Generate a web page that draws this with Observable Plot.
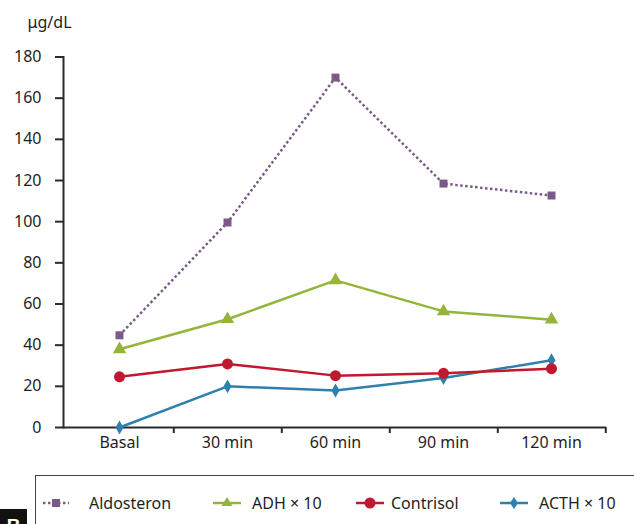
<!DOCTYPE html>
<html><head><meta charset="utf-8">
<script src="https://cdn.jsdelivr.net/npm/d3@7"></script>
<script src="https://cdn.jsdelivr.net/npm/@observablehq/plot@0.6"></script>
<style>
body{margin:0;background:#fff;font-family:"Noto Sans",sans-serif;}
#wrap{position:relative;width:634px;height:524px;overflow:hidden;background:#fff;}
#legend{position:absolute;left:35px;top:475px;width:640px;height:70px;border:1px solid #444;box-sizing:border-box;}
.item{position:absolute;top:16px;height:22px;display:flex;align-items:center;font-size:16px;color:#1e1e1e;white-space:nowrap;}
#panel{position:absolute;left:0;top:509px;width:27px;height:30px;background:#111;color:#fff;font-weight:bold;font-size:19px;text-align:center;line-height:34px;font-family:"Liberation Sans",sans-serif;}
</style></head><body><div id="wrap"></div>
<script>
const categories = ["Basal", "30 min", "60 min", "90 min", "120 min"];
const aldosteron = [44.8, 99.6, 170, 118.5, 112.7];
const adh = [38, 52.6, 71.5, 56.4, 52.4];
const contrisol = [24.6, 30.9, 25.2, 26.3, 28.6];
const acth = [0, 20, 18, 24, 32.7];
const yTicks = [0, 20, 40, 60, 80, 100, 120, 140, 160, 180];
const seriesNames = ["Aldosteron", "ADH × 10", "Contrisol", "ACTH × 10"];
const colors = ["#7b5a89", "#95b43a", "#c1172f", "#2f80ad"];

const W = 634, H = 470, ML = 63, MR = 28, MT = 56.5, MB = 43;
const bw = (W - ML - MR) / categories.length;

const rows = (vals, name) => categories.map((c, i) => ({cat: c, value: vals[i], series: name}));
const dAld = rows(aldosteron, seriesNames[0]);
const dAdh = rows(adh, seriesNames[1]);
const dCor = rows(contrisol, seriesNames[2]);
const dActh = rows(acth, seriesNames[3]);

const axisColor = "#2b2b2b";
const chart = Plot.plot({
  width: W, height: H,
  marginLeft: ML, marginRight: MR, marginTop: MT, marginBottom: MB,
  style: {fontFamily: '"Noto Sans", sans-serif', fontSize: "16px", color: "#1e1e1e", background: "#fff"},
  x: {type: "band", domain: categories, padding: 0},
  y: {domain: [0, 180]},
  marks: [
    Plot.axisY({ticks: yTicks, tickSize: 8, tickPadding: 14, label: null, stroke: axisColor, strokeWidth: 2, fontSize: 16}),
    Plot.axisX({tickSize: 0, tickPadding: 9, label: null, fontSize: 16}),
    Plot.axisX({tickSize: 6, text: null, label: null, dx: bw / 2, stroke: axisColor, strokeWidth: 2}),
    Plot.frame({anchor: "left", stroke: axisColor, strokeWidth: 2}),
    Plot.ruleY([0], {stroke: axisColor, strokeWidth: 2}),
    Plot.text(["μg/dL"], {frameAnchor: "top-left", dx: -36, dy: -40, textAnchor: "start", fontSize: 16, fill: "#1e1e1e"}),
    Plot.line(dActh, {x: "cat", y: "value", stroke: colors[3], strokeWidth: 2.5}),
    Plot.dot(dActh, {x: "cat", y: "value", fill: colors[3], symbol: "diamond", r: 4.2}),
    Plot.line(dCor, {x: "cat", y: "value", stroke: colors[2], strokeWidth: 2.5}),
    Plot.dot(dCor, {x: "cat", y: "value", fill: colors[2], symbol: "circle", r: 5.5}),
    Plot.line(dAdh, {x: "cat", y: "value", stroke: colors[1], strokeWidth: 2.5}),
    Plot.dot(dAdh, {x: "cat", y: "value", fill: colors[1], symbol: "triangle", r: 5}),
    Plot.line(dAld, {x: "cat", y: "value", stroke: colors[0], strokeWidth: 2.5, strokeDasharray: "2.5,2.5", strokeLinecap: "butt"}),
    Plot.dot(dAld, {x: "cat", y: "value", fill: colors[0], symbol: "square", r: 4.5})
  ]
});
const wrap = document.getElementById("wrap");
wrap.appendChild(chart);

// Legend
const legend = document.createElement("div");
legend.id = "legend";
const icons = [
  `<line x1="0" y1="11" x2="26" y2="11" stroke="${colors[0]}" stroke-width="2.5" stroke-dasharray="2.5,2.5"/><rect x="9" y="7" width="8" height="8" fill="${colors[0]}"/>`,
  `<line x1="0" y1="11" x2="28" y2="11" stroke="${colors[1]}" stroke-width="2.5"/><path d="M14,5 L19.5,14 L8.5,14 Z" fill="${colors[1]}"/>`,
  `<line x1="0" y1="11" x2="28" y2="11" stroke="${colors[2]}" stroke-width="2.5"/><circle cx="14" cy="11" r="5.5" fill="${colors[2]}"/>`,
  `<line x1="0" y1="11" x2="28" y2="11" stroke="${colors[3]}" stroke-width="2.5"/><path d="M14,5 L18,11 L14,17 L10,11 Z" fill="${colors[3]}"/>`
];
const lefts = [7, 177, 320, 464];
const widths = [26, 28, 28, 28];
const gaps = [20, 11, 7, 11];
seriesNames.forEach((n, i) => {
  const it = document.createElement("div");
  it.className = "item";
  it.style.left = lefts[i] + "px";
  it.innerHTML = `<svg width="${widths[i]}" height="22" style="margin-right:${gaps[i]}px">${icons[i]}</svg><span>${n}</span>`;
  legend.appendChild(it);
});
wrap.appendChild(legend);
const panel = document.createElement("div");
panel.id = "panel";
panel.textContent = "B";
wrap.appendChild(panel);
</script></body></html>
